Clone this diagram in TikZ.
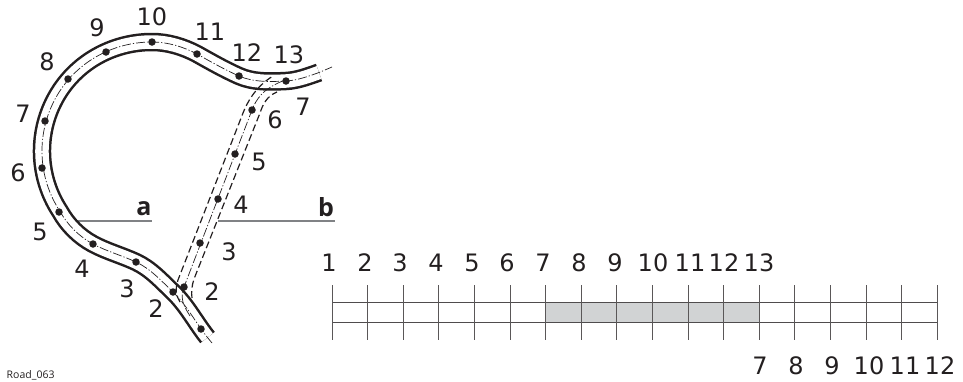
\documentclass[tikz,border=0pt]{standalone}
\usepackage{fontspec}
\setmainfont{DejaVu Sans}
\newfontfamily\boldlbl{Open Sans}
\newfontfamily\smalllbl{Open Sans}
\definecolor{ink}{HTML}{231F20}
\definecolor{band}{HTML}{D1D3D4}
\definecolor{rule}{HTML}{808285}
\tikzset{
  edgeblack/.style={ink,line width=18.5pt,line cap=butt},
  edgewhite/.style={white,line width=13.5pt,line cap=butt},
  axis/.style={ink,line width=0.7pt,dash pattern=on 9pt off 2pt on 1.2pt off 2pt},
  kerb/.style={ink,line width=1.2pt,dash pattern=on 7pt off 3.5pt},
  pt/.style={circle,fill=ink,inner sep=0pt,minimum size=7.5pt},
  num/.style={text=ink,font=\fontsize{24}{24}\selectfont,inner sep=0pt},
  ltr/.style={text=ink,font=\fontsize{25}{25}\boldlbl\bfseries,inner sep=0pt},
  leader/.style={rule,line width=1.5pt},
  tick/.style={draw=ink!75,line width=1pt},
  rail/.style={draw=ink!80,line width=1pt}
}
\def\roadmid{(207.5,337.5)
  .. controls (195.7,322.7) and (186.7,305.1) .. (173,292)
  .. controls (161.5,281) and (150.4,268.7) .. (136,262)
  .. controls (122,255.5) and (106.6,251.3) .. (93,244)
  .. controls (79.4,236.7) and (67.5,225) .. (60,211.4)
  .. controls (37.8,177.6) and (36,134.4) .. (55.2,98.8)
  .. controls (74.4,63.2) and (111.6,42) .. (152,42)
  .. controls (167.6,42) and (183.3,46.7) .. (197,54)
  .. controls (210.7,61.7) and (224.8,69.7) .. (239,76)
  .. controls (253.2,82.3) and (270.2,81.8) .. (286,81)
  .. controls (297.4,80.4) and (308.3,76.3) .. (319,72.5)}
\begin{document}
\begin{tikzpicture}[x=1pt,y=-1pt]
\useasboundingbox (0,0) rectangle (963,381);
% leaders
\coordinate (la) at (70,221); \coordinate (lae) at (152,221);
\coordinate (lb) at (218,221); \coordinate (lbe) at (335,221);
\draw[leader] (la) -- (lae);
\draw[leader] (lb) -- (lbe);
% road edges
\draw[edgeblack] \roadmid;
\draw[edgewhite] \roadmid;
% road axis
\coordinate (as) at (212,343); \coordinate (ae) at (332,67);
\draw[axis] (as) -- \roadmid -- (ae);
% branch
\draw[kerb] (180,302) .. controls (176,296) and (175,289) .. (178,280) -- (243,113) .. controls (247,103) and (255,87) .. (273,76);
\draw[kerb] (192,298) .. controls (191,292) and (192,285) .. (194,279) -- (260,113) .. controls (263,104) and (267,96) .. (277,92);
\draw[axis] (190,316) .. controls (183,305) and (180,298) .. (184,287) -- (252,110) .. controls (256,100) and (262,88) .. (288,79);
% dots
\foreach \n/\p in {m1/{201,329},m2/{173,292},m3/{136,262},m4/{93,244},m5/{59,212},m6/{42,168},m7/{45,121},m8/{68,79},m9/{106,52},m10/{152,42},m11/{197,54},m12/{239,76},m13/{286,81},b2/{184,287},b3/{200,243},b4/{218,199},b5/{235,154},b6/{252,110}}
  \node[pt] (\n) at (\p) {};
% curve labels
\foreach \t/\p in {10/{152,17},9/{97,28},8/{47,62},7/{23,114},6/{18,173},5/{40,232},4/{82,269},3/{127,289},2/{156,309},11/{210,32},12/{247,53},13/{289,55},7/{303,107},6/{275,120},5/{259,162},4/{241,205},3/{229,252},2/{212,292}}
  \node[num] at (\p) {\t};
\node[ltr] (a) at (144,209) {a};
\node[ltr] (b) at (326,207) {b};
% strip
\fill[band] (545.6,302) rectangle (759.2,322);
\draw[rail] (332,302) -- (937,302);
\draw[rail] (332,322) -- (937,322);
\foreach \i in {0,...,17}
  \draw[tick] ({332+35.6*\i},285) -- ({332+35.6*\i},340);
\foreach \t/\x in {1/329,2/365,3/400,4/436,5/472,6/507,7/543,8/579,9/615,10/653,11/690,12/724,13/759}
  \node[num] at (\x,263) {\t};
\foreach \t/\x in {7/760,8/796,9/832,10/869,11/905,12/940}
  \node[num] at (\x,366) {\t};
\node[text=ink,font=\fontsize{10.5}{10.5}\smalllbl,anchor=base west,inner sep=0pt] (ref) at (6.5,378.3) {Road\_063};
\end{tikzpicture}
\end{document}
